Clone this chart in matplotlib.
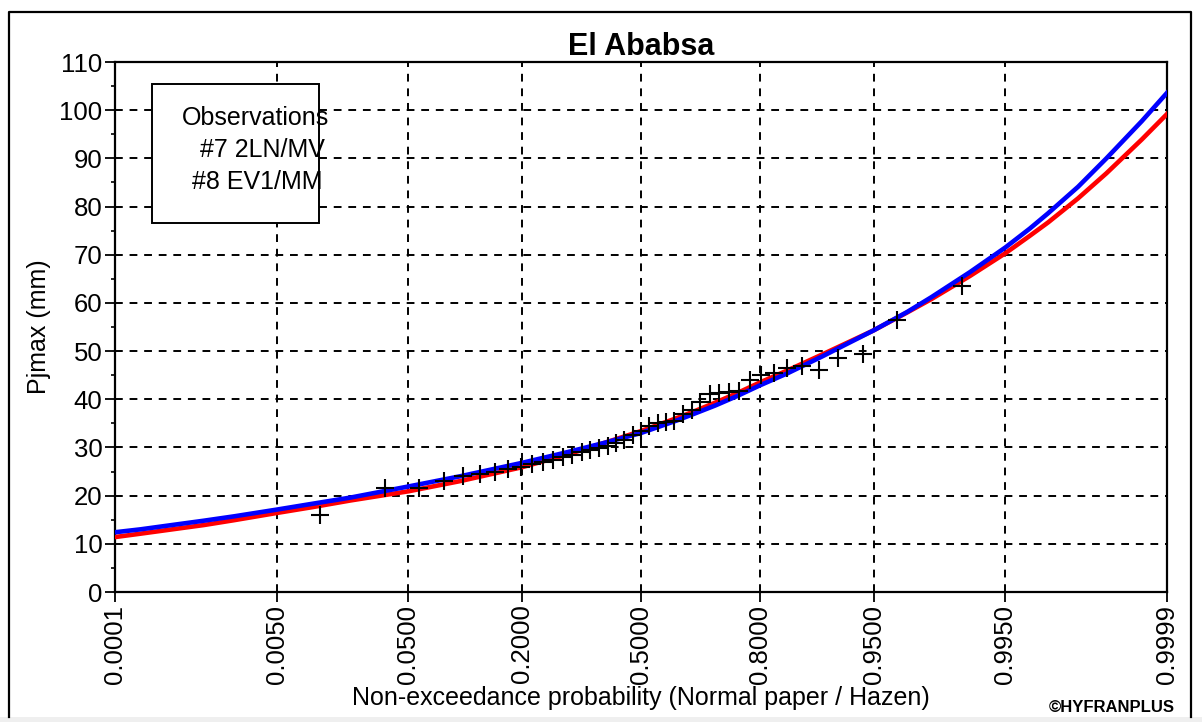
from statistics import NormalDist

import matplotlib
matplotlib.use("Agg")
import matplotlib.pyplot as plt
import numpy as np
from matplotlib.lines import Line2D
from matplotlib.patches import Rectangle

plt.rcParams.update(
    {
        "font.family": ["Liberation Sans", "DejaVu Sans"],
        "font.size": 18,
        "axes.linewidth": 1.6,
    }
)

# observed annual maxima, Hazen positions (n = 43)
obs_p = [0.0116, 0.0349, 0.0581, 0.0814, 0.1047, 0.1279, 0.1512, 0.1744,
         0.1977, 0.2209, 0.2442, 0.2674, 0.2907, 0.3140, 0.3372, 0.3605,
         0.3837, 0.4070, 0.4302, 0.4535, 0.4767, 0.5000, 0.5233, 0.5465,
         0.5698, 0.5930, 0.6163, 0.6395, 0.6628, 0.6860, 0.7093, 0.7326,
         0.7558, 0.7791, 0.8023, 0.8256, 0.8488, 0.8721, 0.8953, 0.9186,
         0.9419, 0.9651, 0.9884]
obs_mm = [16.0, 21.5, 21.5, 23.0, 24.0, 24.5, 25.0, 25.5,
          26.0, 26.5, 27.0, 27.5, 28.0, 28.5, 29.0, 29.4,
          29.8, 30.3, 30.9, 31.5, 32.5, 33.5, 34.5, 35.0,
          35.2, 35.5, 37.0, 37.7, 39.4, 41.0, 41.3, 41.6,
          41.8, 44.0, 45.0, 45.4, 46.5, 47.0, 46.0, 48.5,
          49.5, 56.4, 63.5]

# fitted quantile curves
fit_p = [0.0001, 0.0002, 0.0005, 0.001, 0.002, 0.005, 0.01, 0.02, 0.05,
         0.1, 0.2, 0.3, 0.4, 0.5, 0.6, 0.65, 0.7, 0.75, 0.8, 0.85, 0.9,
         0.95, 0.97, 0.98, 0.99, 0.995, 0.997, 0.998, 0.999, 0.9995,
         0.9998, 0.9999]
ln2_mm = [12.4, 13.0, 14.0, 14.8, 15.7, 17.1, 18.3, 19.6, 21.9,
          24.0, 26.8, 29.0, 31.0, 33.0, 35.6, 37.1, 38.7, 40.6, 42.9, 45.4, 48.9,
          54.3, 58.1, 61.2, 66.4, 71.5, 75.4, 78.6, 84.1, 90.0,
          97.7, 103.6]
ev1_mm = [11.4, 12.1, 13.1, 13.9, 14.9, 16.4, 17.6, 19.0, 20.9,
          23.0, 25.9, 28.5, 31.0, 33.4, 36.1, 37.6, 39.3, 41.2, 43.5, 46.0, 49.3,
          54.3, 58.0, 60.8, 65.6, 70.3, 73.9, 76.7, 81.7, 86.9,
          93.9, 99.2]

xticks = [0.0001, 0.005, 0.05, 0.2, 0.5, 0.8, 0.95, 0.995, 0.9999]
xlabels = ["0.0001", "0.0050", "0.0500", "0.2000", "0.5000",
           "0.8000", "0.9500", "0.9950", "0.9999"]

_nd = NormalDist()
_ppf = np.vectorize(_nd.inv_cdf, otypes=[float])
_cdf = np.vectorize(_nd.cdf, otypes=[float])


def to_normal(p):
    p = np.clip(np.asarray(p, dtype=float), 1e-9, 1 - 1e-9)
    return _ppf(p)


def from_normal(z):
    return _cdf(np.asarray(z, dtype=float))


W, H = 1202, 722
fig = plt.figure(figsize=(W / 100, H / 100), dpi=100)
ax = fig.add_axes([115 / W, 1 - 592 / H, (1167 - 115) / W, (592 - 62) / H])

ax.set_xscale("function", functions=(to_normal, from_normal))
ax.set_xlim(0.0001, 0.9999)
ax.set_ylim(0, 110)

ax.grid(True, color="black", linestyle=(0, (4, 3.5)), linewidth=1.4)
ax.set_axisbelow(True)

ax.plot(fit_p, ev1_mm, color="#ff0000", lw=3.3, zorder=3,
        solid_joinstyle="round")
ax.plot(fit_p, ln2_mm, color="#0000ff", lw=3.3, zorder=3,
        solid_joinstyle="round")
ax.plot(obs_p, obs_mm, linestyle="none", marker="+", color="black",
        markersize=13, markeredgewidth=1.5, zorder=4)

ax.set_xticks(xticks)
ax.set_xticklabels(xlabels, rotation=90)
ax.set_xticks([], minor=True)
ax.set_yticks(np.arange(0, 111, 10))
ax.set_yticks(np.arange(5, 110, 10), minor=True)
ax.tick_params(axis="both", which="major", length=7, width=1.3, pad=2,
               labelsize=18.5)
ax.tick_params(axis="y", which="minor", length=3, width=1.2)

ax.set_title("El Ababsa", fontsize=22, fontweight="bold", pad=4)
ax.set_xlabel("Non-exceedance probability (Normal paper / Hazen)",
              fontsize=18, labelpad=2)
ax.set_ylabel("Pjmax (mm)", fontsize=18, labelpad=6)

# text-only legend box
ax.add_patch(Rectangle((152 / W, 1 - 223 / H), (319 - 152) / W, (223 - 84) / H,
                       transform=fig.transFigure, facecolor="white",
                       edgecolor="black", lw=1.4, zorder=5))
fig.text(182 / W, 1 - 118 / H, "Observations", fontsize=18, va="center",
         zorder=6)
fig.text(200 / W, 1 - 150 / H, "#7 2LN/MV", fontsize=18, va="center",
         zorder=6)
fig.text(192 / W, 1 - 182 / H, "#8 EV1/MM", fontsize=18, va="center",
         zorder=6)

fig.text(1175 / W, 1 - 707 / H, "©HYFRANPLUS", fontsize=12,
         fontweight="bold", ha="right", va="center")

# window frame
fig.add_artist(Line2D([9 / W, 9 / W, 1191 / W, 1191 / W],
                      [1 - 717 / H, 1 - 12 / H, 1 - 12 / H, 1 - 717 / H],
                      transform=fig.transFigure, color="black", lw=1.6))
fig.add_artist(Rectangle((0, 0), 1, 5 / H, transform=fig.transFigure,
                         facecolor="#efefef", edgecolor="none"))

fig.savefig("out.png", dpi=100)
